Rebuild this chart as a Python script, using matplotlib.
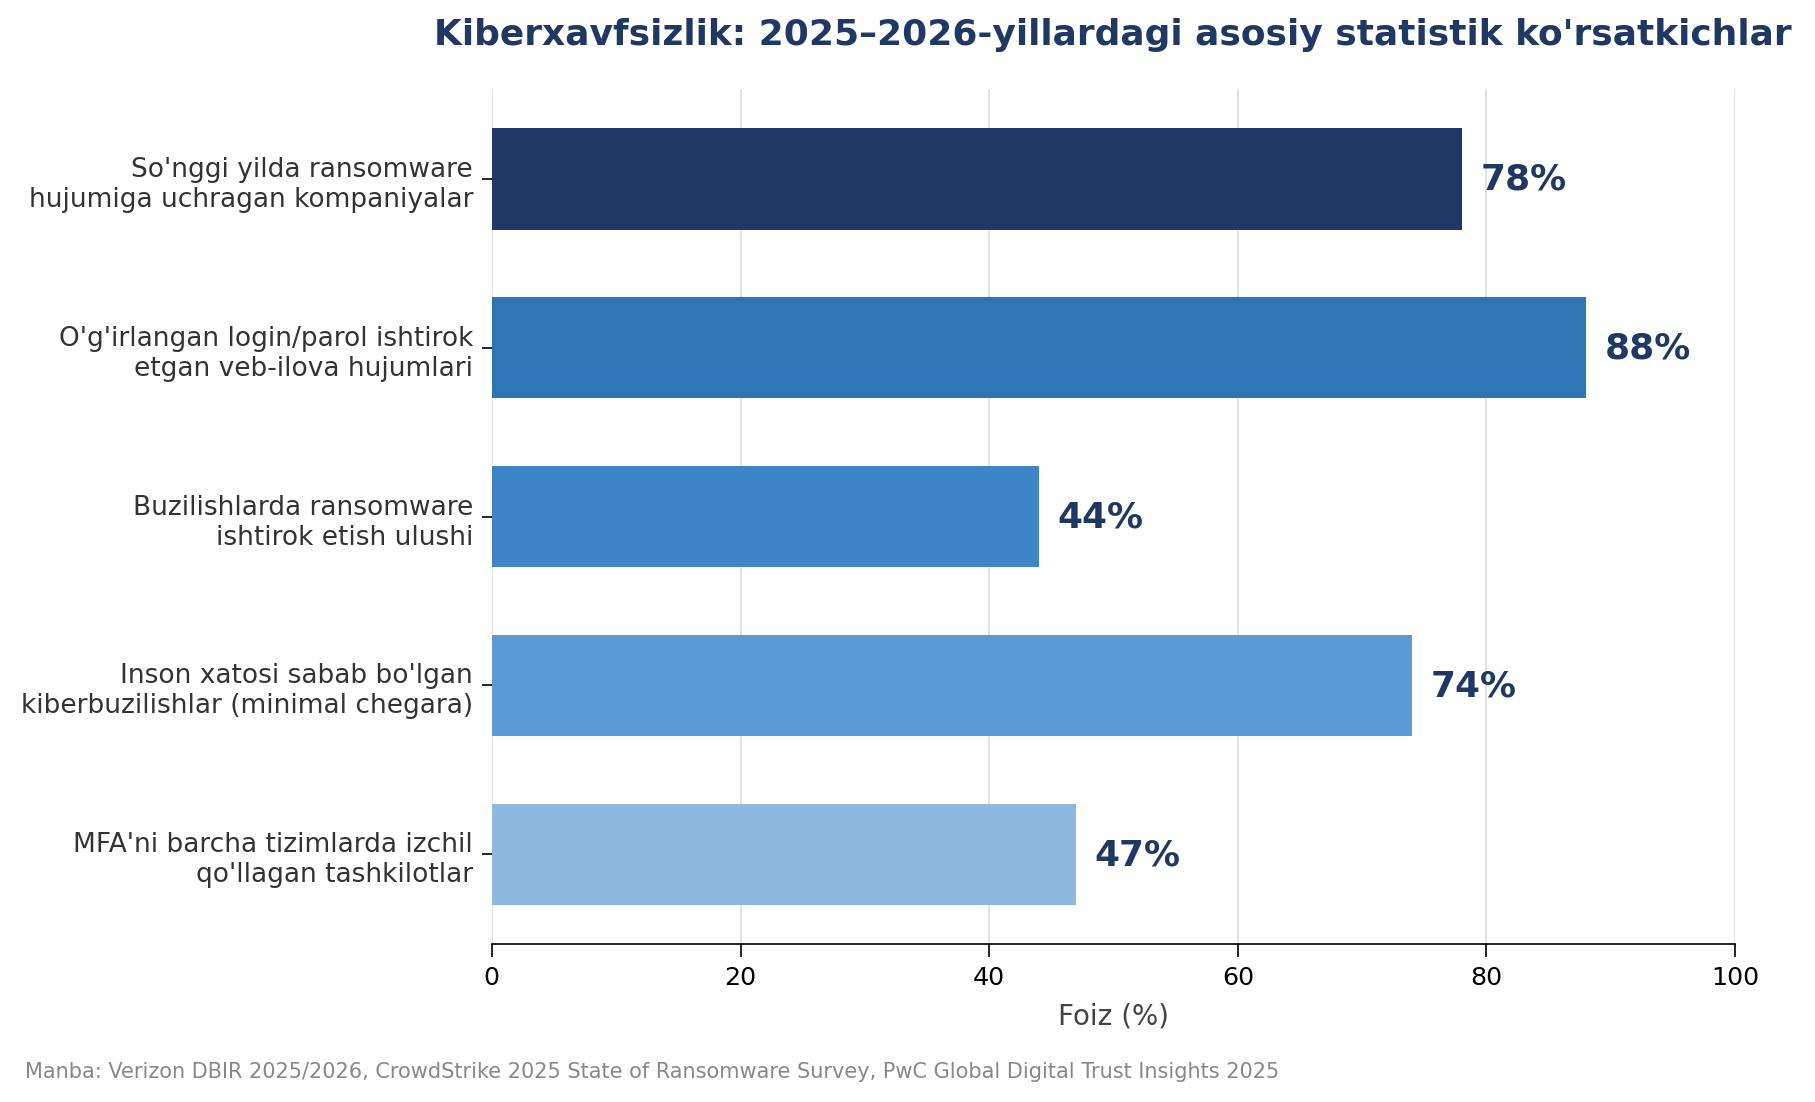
import matplotlib
matplotlib.use("Agg")
import matplotlib.pyplot as plt

# Kiberxavfsizlik statistikasi
categories = [
    "So'nggi yilda ransomware\nhujumiga uchragan kompaniyalar",
    "O'g'irlangan login/parol ishtirok\netgan veb-ilova hujumlari",
    "Buzilishlarda ransomware\nishtirok etish ulushi",
    "Inson xatosi sabab bo'lgan\nkiberbuzilishlar (minimal chegara)",
    "MFA'ni barcha tizimlarda izchil\nqo'llagan tashkilotlar",
]
values = [78, 88, 44, 74, 47]
bar_colors = ["#1f3864", "#2e75b6", "#3d85c6", "#5b9bd5", "#8fb8e0"]
xticks = [0, 20, 40, 60, 80, 100]

DARK = "#1f3864"

fig = plt.figure(figsize=(12.1, 7.353), dpi=150)
ax = fig.add_axes([0.271, 0.1435, 0.685, 0.7745])

y = range(len(categories))
ax.barh(y, values, height=0.6, color=bar_colors, zorder=3)
ax.invert_yaxis()

for i, v in enumerate(values):
    ax.text(v + 1.5, i, f"{v}%", va="center", ha="left",
            fontsize=17.3, fontweight="bold", color=DARK, zorder=4)

ax.set_yticks(list(y))
ax.set_yticklabels(categories, fontsize=12.7, color="#333333")
ax.set_xlim(0, 100)
ax.set_xticks(xticks)
ax.tick_params(axis="y", length=5, pad=4)
ax.tick_params(axis="x", labelsize=12.2, length=6, pad=4)
ax.set_xlabel("Foiz (%)", fontsize=13.3, color="#444444", labelpad=6)

ax.grid(axis="x", color="#dddddd", linewidth=0.8, zorder=0)
ax.grid(axis="y", visible=False)
for s in ["top", "right", "left"]:
    ax.spines[s].set_visible(False)

fig.text(0.613, 0.968, "Kiberxavfsizlik: 2025\u20132026-yillardagi asosiy statistik ko'rsatkichlar",
         ha="center", va="center", fontsize=17.3, fontweight="bold", color=DARK)
fig.text(0.014, 0.028,
         "Manba: Verizon DBIR 2025/2026, CrowdStrike 2025 State of Ransomware Survey, PwC Global Digital Trust Insights 2025",
         ha="left", va="center", fontsize=10, color="#888888")

fig.savefig("out.png", dpi=150)
